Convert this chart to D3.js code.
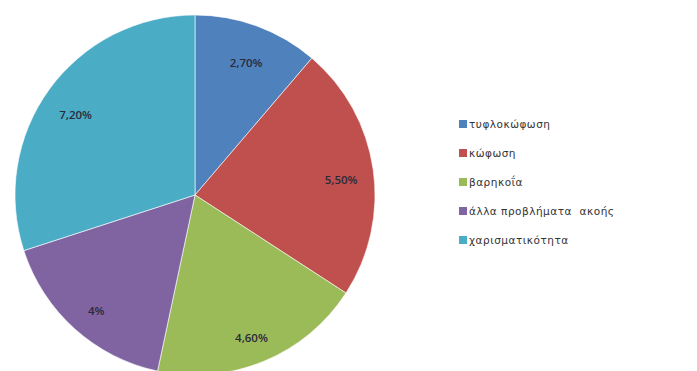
<!DOCTYPE html>
<html>
<head>
<meta charset="utf-8">
<script src="https://cdn.jsdelivr.net/npm/d3@7"></script>
<style>
  html, body { margin: 0; padding: 0; background: #fff; }
  svg { display: block; }
</style>
</head>
<body>
<svg id="chart" width="697" height="371"></svg>
<script>
// Categories and their shares (in %)
const categories = ["τυφλοκώφωση", "κώφωση", "βαρηκοΐα", "άλλα προβλήματα  ακοής", "χαρισματικότητα"];
const values = [2.7, 5.5, 4.6, 4, 7.2];
const valueLabels = ["2,70%", "5,50%", "4,60%", "4%", "7,20%"];
const colors = ["#4F81BD", "#C0504D", "#9BBB59", "#8064A2", "#4BACC6"];

const svg = d3.select("#chart");
const cx = 195, cy = 195, radius = 180;

const data = categories.map((c, i) => ({ name: c, value: values[i], label: valueLabels[i], color: colors[i] }));

const pie = d3.pie().value(d => d.value).sort(null);
const arc = d3.arc().innerRadius(0).outerRadius(radius);
const labelArc = d3.arc().innerRadius(radius * 0.82).outerRadius(radius * 0.82);

const g = svg.append("g").attr("transform", `translate(${cx},${cy})`);
const arcs = pie(data);

g.selectAll("path.slice")
  .data(arcs)
  .enter().append("path")
  .attr("class", "slice")
  .attr("d", arc)
  .attr("fill", d => d.data.color)
  .attr("stroke", "#ffffff")
  .attr("stroke-width", 0.6);

// Value labels inside each slice
g.selectAll("text.val")
  .data(arcs)
  .enter().append("text")
  .attr("class", "val")
  .attr("transform", d => `translate(${labelArc.centroid(d)})`)
  .attr("dy", "0.9em")
  .attr("text-anchor", "middle")
  .attr("font-family", "Open Sans, Liberation Sans, sans-serif")
  .attr("font-size", 11.5)
  .attr("font-weight", 600)
  .attr("fill", "#2a2a3a")
  .text(d => d.data.label);

// Legend
const legend = svg.append("g").attr("transform", "translate(459,124)");
const rowH = 29;
const rows = legend.selectAll("g.row")
  .data(data)
  .enter().append("g")
  .attr("class", "row")
  .attr("transform", (d, i) => `translate(0,${i * rowH})`);

rows.append("rect")
  .attr("x", 0).attr("y", -4)
  .attr("width", 8).attr("height", 8)
  .attr("fill", d => d.color);

rows.append("text")
  .attr("x", 10).attr("y", 0)
  .attr("dominant-baseline", "central")
  .attr("font-family", "DejaVu Sans, sans-serif")
  .attr("font-size", 10.5)
  .attr("letter-spacing", 0.5)
  .attr("fill", "#333")
  .style("white-space", "pre")
  .text(d => d.name);
</script>
</body>
</html>
